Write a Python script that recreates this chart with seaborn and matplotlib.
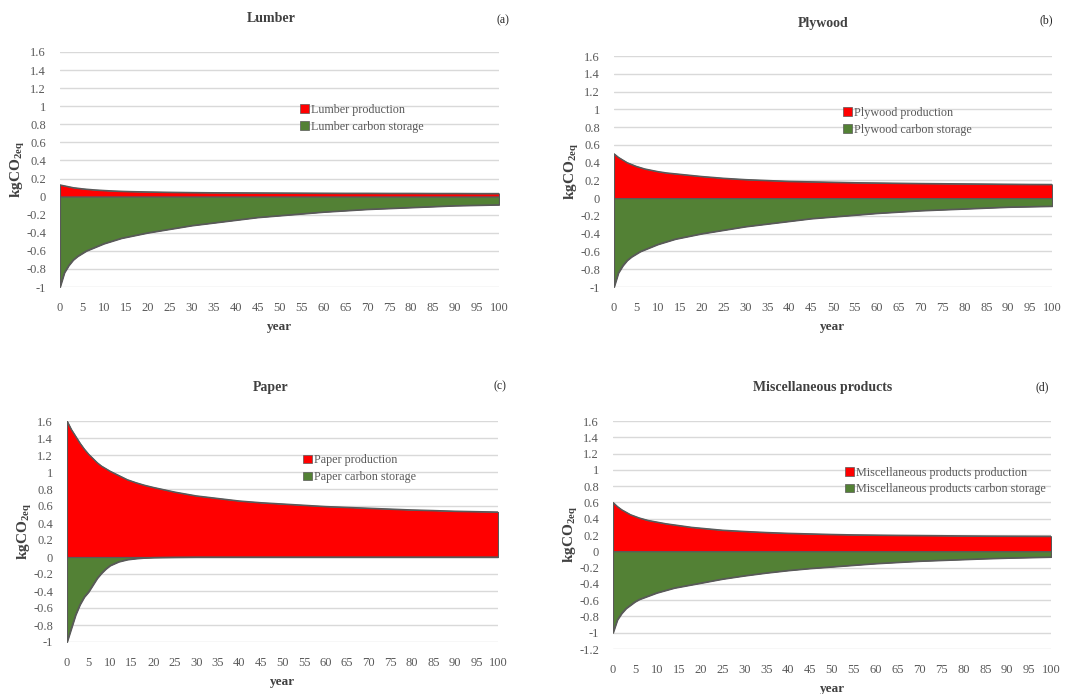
import numpy as np
import pandas as pd
import matplotlib
matplotlib.use("Agg")
import matplotlib.pyplot as plt
from matplotlib.patches import Patch
import seaborn as sns

# ---------------- data ----------------
years = [0, 1, 2, 3, 4, 5, 6, 7, 8, 9, 10, 12, 14, 16, 18, 20, 25, 30, 35, 40,
         45, 50, 55, 60, 65, 70, 75, 80, 85, 90, 95, 100]

lumber_production = [0.13, 0.12, 0.11, 0.10, 0.094, 0.088, 0.083, 0.079, 0.075, 0.072,
                     0.069, 0.064, 0.060, 0.057, 0.055, 0.053, 0.049, 0.046, 0.044, 0.043,
                     0.042, 0.041, 0.040, 0.039, 0.038, 0.038, 0.037, 0.037, 0.036, 0.036,
                     0.035, 0.035]
lumber_storage = [-1.0, -0.84, -0.76, -0.70, -0.66, -0.63, -0.60, -0.58, -0.56, -0.54,
                  -0.52, -0.49, -0.46, -0.44, -0.42, -0.40, -0.36, -0.32, -0.29, -0.26,
                  -0.23, -0.21, -0.19, -0.17, -0.155, -0.14, -0.13, -0.12, -0.11, -0.10,
                  -0.095, -0.09]

plywood_production = [0.50, 0.46, 0.43, 0.40, 0.38, 0.36, 0.345, 0.33, 0.32, 0.31,
                      0.30, 0.285, 0.275, 0.265, 0.255, 0.245, 0.225, 0.21, 0.20, 0.19,
                      0.185, 0.18, 0.175, 0.172, 0.169, 0.166, 0.164, 0.162, 0.16, 0.158,
                      0.156, 0.155]
plywood_storage = [-1.0, -0.84, -0.76, -0.70, -0.66, -0.63, -0.60, -0.58, -0.56, -0.54,
                   -0.52, -0.49, -0.46, -0.44, -0.42, -0.40, -0.36, -0.32, -0.29, -0.26,
                   -0.23, -0.21, -0.19, -0.17, -0.155, -0.14, -0.13, -0.12, -0.11, -0.10,
                   -0.095, -0.09]

paper_production = [1.60, 1.50, 1.42, 1.34, 1.27, 1.21, 1.16, 1.11, 1.07, 1.04,
                    1.01, 0.96, 0.91, 0.875, 0.845, 0.82, 0.765, 0.72, 0.69, 0.66,
                    0.64, 0.625, 0.61, 0.595, 0.585, 0.575, 0.565, 0.555, 0.548, 0.54,
                    0.535, 0.53]
paper_storage = [-1.0, -0.84, -0.68, -0.56, -0.47, -0.41, -0.33, -0.25, -0.19, -0.14,
                 -0.10, -0.055, -0.03, -0.018, -0.01, -0.006, -0.002, 0.0, 0.0, 0.0,
                 0.0, 0.0, 0.0, 0.0, 0.0, 0.0, 0.0, 0.0, 0.0, 0.0,
                 0.0, 0.0]

misc_production = [0.60, 0.55, 0.51, 0.48, 0.45, 0.43, 0.41, 0.395, 0.38, 0.37,
                   0.36, 0.34, 0.325, 0.31, 0.295, 0.285, 0.26, 0.245, 0.232, 0.222,
                   0.215, 0.208, 0.203, 0.20, 0.197, 0.195, 0.193, 0.19, 0.188, 0.187,
                   0.186, 0.185]
misc_storage = [-1.0, -0.84, -0.76, -0.70, -0.66, -0.62, -0.59, -0.57, -0.55, -0.53,
                -0.51, -0.48, -0.45, -0.43, -0.41, -0.39, -0.34, -0.30, -0.265, -0.235,
                -0.21, -0.19, -0.17, -0.15, -0.135, -0.12, -0.11, -0.10, -0.09, -0.082,
                -0.076, -0.07]

titles = ["Lumber", "Plywood", "Paper", "Miscellaneous products"]
panel_tags = ["(a)", "(b)", "(c)", "(d)"]
xticks = list(range(0, 101, 5))

# ---------------- style ----------------
sns.set_theme(style="white")
plt.rcParams["font.family"] = ["Liberation Serif", "DejaVu Serif"]
plt.rcParams["mathtext.fontset"] = "custom"
plt.rcParams["mathtext.rm"] = "Liberation Serif"
plt.rcParams["mathtext.bf"] = "Liberation Serif:bold"

RED = "#FF0000"
GREEN = "#538135"
EDGE = "#595959"
GRID = "#D9D9D9"
TXT = "#595959"
DARK = "#404040"

W, H = 1077, 694
fig = plt.figure(figsize=(W / 100, H / 100), dpi=100)

# axes rectangles in pixels: left, right, top(y of max), bottom(y of min)
rects = [
    (60, 499, 52, 287),
    (614, 1052, 56, 287),
    (67, 498, 421, 642),
    (613, 1051, 421, 649),
]
ylims = [(-1, 1.6), (-1, 1.6), (-1, 1.6), (-1.2, 1.6)]
title_pos = [(271, 18), (823, 23), (271, 388), (823, 388)]
tag_pos = [(503, 20), (1046, 20), (500, 386), (1042, 387)]
legend_anchor = [(0.547, 0.78), (0.523, 0.78), (0.548, 0.85), (0.530, 0.80)]

series = [
    (lumber_production, lumber_storage, "Lumber"),
    (plywood_production, plywood_storage, "Plywood"),
    (paper_production, paper_storage, "Paper"),
    (misc_production, misc_storage, "Miscellaneous products"),
]

for i, ((prod, stor, name), (l, r, t, b)) in enumerate(zip(series, rects)):
    ax = fig.add_axes([l / W, 1 - b / H, (r - l) / W, (b - t) / H])
    df = pd.DataFrame({"year": years, "prod": prod, "stor": stor})
    ax.fill_between(df["year"], 0, df["prod"], color=RED, edgecolor=EDGE,
                    linewidth=0.8, zorder=3)
    ax.fill_between(df["year"], 0, df["stor"], color=GREEN, edgecolor=EDGE,
                    linewidth=0.8, zorder=3)
    sns.lineplot(data=df, x="year", y="prod", ax=ax, color=EDGE, lw=0.9, zorder=4)
    sns.lineplot(data=df, x="year", y="stor", ax=ax, color=EDGE, lw=0.9, zorder=4)

    lo, hi = ylims[i]
    ax.set_xlim(0, 100)
    ax.set_ylim(lo, hi)
    yt = np.round(np.arange(lo, hi + 0.001, 0.2), 1)
    ax.set_yticks(yt)
    ax.set_yticklabels([("%g" % v) if abs(v) > 1e-9 else "0" for v in yt])
    ax.set_xticks(xticks)
    ax.set_xticklabels([str(v) for v in xticks])
    ax.tick_params(axis="both", length=0, labelsize=9, labelcolor=TXT)
    ax.tick_params(axis="y", pad=10)
    ax.tick_params(axis="x", pad=11)
    ax.yaxis.grid(True, color=GRID, lw=1.0)
    ax.xaxis.grid(False)
    ax.set_axisbelow(True)
    for s in ax.spines.values():
        s.set_visible(False)

    ax.set_xlabel("year", fontsize=9.5, fontweight="bold", color=DARK)
    ax.xaxis.set_label_coords(0.5, -34 / (b - t))
    ax.set_ylabel(r"kgCO$_{\mathbf{2eq}}$", fontsize=11, fontweight="bold", color=DARK)
    ax.yaxis.set_label_coords(-33 / (r - l), 0.5)

    handles = [Patch(facecolor=RED, edgecolor=EDGE, lw=0.5),
               Patch(facecolor=GREEN, edgecolor=EDGE, lw=0.5)]
    labels = [f"{name} production", f"{name} carbon storage"]
    leg = ax.legend(handles, labels, loc="upper left", bbox_to_anchor=legend_anchor[i],
                    frameon=False, fontsize=8.7, handlelength=0.7, handleheight=0.7,
                    handletextpad=0.2, labelspacing=0.4, borderaxespad=0, borderpad=0)
    for txt in leg.get_texts():
        txt.set_color(TXT)

    fig.text(title_pos[i][0] / W, 1 - title_pos[i][1] / H, titles[i], ha="center",
             va="center", fontsize=10, fontweight="bold", color=DARK)
    fig.text(tag_pos[i][0] / W, 1 - tag_pos[i][1] / H, panel_tags[i], ha="center",
             va="center", fontsize=8.5, color="#262626")

fig.savefig("out.png", dpi=100)
